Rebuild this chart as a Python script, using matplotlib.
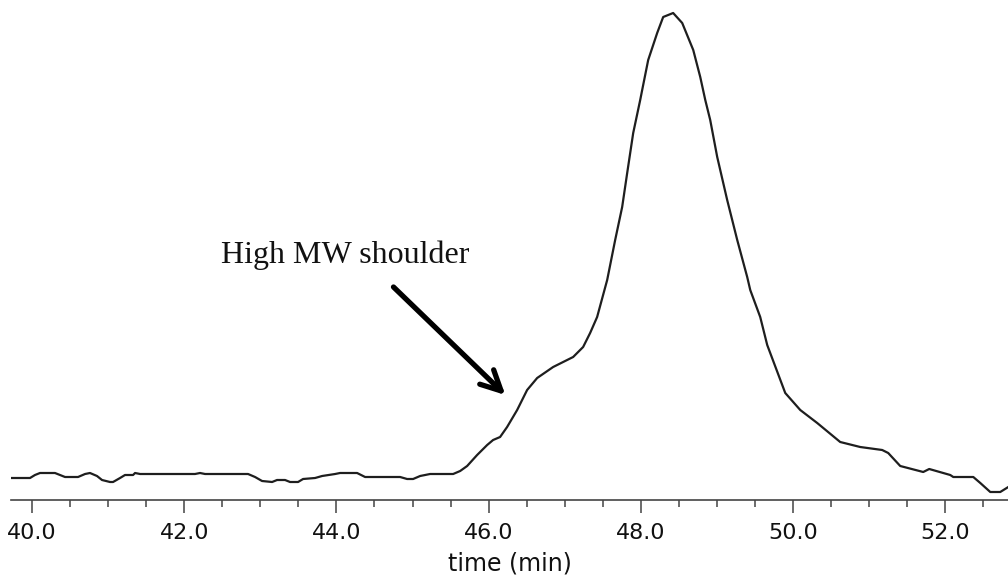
import matplotlib
matplotlib.use("Agg")
import matplotlib.pyplot as plt

# Chromatogram trace (time in min, detector signal in arbitrary units)
time_min = [39.724, 39.974, 40.039, 40.105, 40.302, 40.368, 40.434, 40.605, 40.697, 40.762,
            40.854, 40.920, 41.025, 41.065, 41.157, 41.222, 41.328, 41.354, 41.420, 42.142,
            42.208, 42.274, 42.839, 42.931, 43.023, 43.155, 43.220, 43.325, 43.391, 43.496,
            43.562, 43.720, 43.812, 43.983, 44.048, 44.272, 44.377, 44.837, 44.929, 45.008,
            45.100, 45.231, 45.534, 45.626, 45.718, 45.849, 45.981, 46.059, 46.151, 46.243,
            46.375, 46.506, 46.638, 46.848, 47.111, 47.242, 47.334, 47.426, 47.558, 47.663,
            47.755, 47.821, 47.900, 47.992, 48.018, 48.097, 48.215, 48.294, 48.425, 48.544,
            48.689, 48.781, 48.847, 48.912, 49.004, 49.135, 49.267, 49.398, 49.438, 49.569,
            49.661, 49.898, 50.095, 50.318, 50.620, 50.883, 51.172, 51.251, 51.409, 51.711,
            51.790, 52.066, 52.106, 52.369, 52.461, 52.592, 52.723, 52.829]
signal = [22, 22, 25, 27, 27, 25, 23, 23, 26, 27,
          24, 20, 18, 18, 22, 25, 25, 27, 26, 26,
          27, 26, 26, 23, 19, 18, 20, 20, 18, 18,
          21, 22, 24, 26, 27, 27, 23, 23, 21, 21,
          24, 26, 26, 29, 34, 45, 55, 60, 63, 73,
          90, 110, 122, 133, 143, 153, 167, 183, 220, 260,
          293, 327, 367, 400, 410, 440, 467, 483, 487, 477,
          450, 423, 400, 380, 343, 300, 260, 223, 210, 183,
          155, 107, 90, 77, 58, 53, 50, 47, 34, 28,
          31, 25, 23, 23, 17, 8, 8, 13]

tick_values = [40, 42, 44, 46, 48, 50, 52]
tick_labels = ["40.0", "42.0", "44.0", "46.0", "48.0", "50.0", "52.0"]
minor_values = [40.5, 41, 41.5, 42.5, 43, 43.5, 44.5, 45, 45.5, 46.5, 47, 47.5,
                48.5, 49, 49.5, 50.5, 51, 51.5, 52.5]

annotation_text = "High MW shoulder"
arrow_tip = (46.22, 105)
arrow_tail = (44.75, 213)
text_pos = (44.11, 237)

fig = plt.figure(figsize=(10.08, 5.77), dpi=100)
ax = fig.add_axes([11 / 1008, 77 / 577, 1 - 11 / 1008, 1 - 77 / 577])
ax.plot(time_min, signal, color="#1e1e1e", lw=1.6, solid_joinstyle="round")

ax.set_xlim(39.724, 52.825)
ax.set_ylim(0, 500)

for s in ["top", "right", "left"]:
    ax.spines[s].set_visible(False)
ax.spines["bottom"].set_color("#444444")
ax.spines["bottom"].set_linewidth(1.2)
ax.set_yticks([])
ax.set_xticks(tick_values)
ax.set_xticklabels(tick_labels, fontsize=16, family="DejaVu Sans")
ax.set_xticks(minor_values, minor=True)
ax.tick_params(axis="x", which="major", length=9.5, width=1.1, color="#444444", pad=7,
               labelcolor="#111111")
ax.tick_params(axis="x", which="minor", length=5, width=1.1, color="#444444")
ax.set_xlabel("time (min)", fontsize=17, family="DejaVu Sans", labelpad=6, color="#111111")

ax.text(text_pos[0], text_pos[1], annotation_text, fontsize=23, family="Liberation Serif",
        ha="center", va="baseline", color="#111111")
ax.annotate("", xy=arrow_tip, xytext=arrow_tail,
            arrowprops=dict(arrowstyle="->,head_length=0.9,head_width=0.45", lw=3.8,
                            color="black", mutation_scale=16, shrinkA=0, shrinkB=0))

fig.savefig("out.png", dpi=100)
